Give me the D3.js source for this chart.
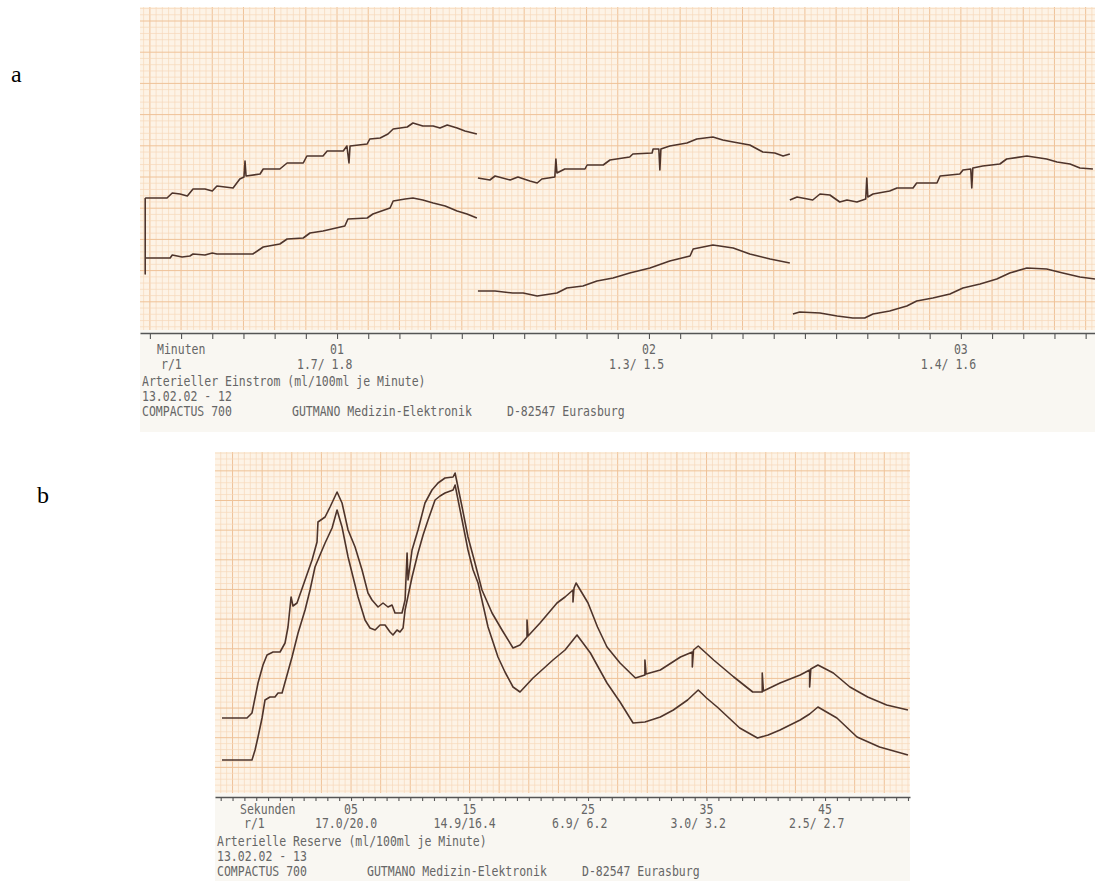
<!DOCTYPE html>
<html><head><meta charset="utf-8">
<script src="https://cdn.jsdelivr.net/npm/d3@7"></script>
<style>body{margin:0;background:#fff}svg{display:block}</style>
</head><body><svg id="c" width="1095" height="881"></svg>
<script>
// ---------- data (panel a: time in s, amplitude in chart units) ----------
const minuteTicks = [60, 120, 180];
const minuteLabels = ["01", "02", "03"];
const ratioA = ["1.7/ 1.8", "1.3/ 1.5", "1.4/ 1.6"];

const a1Upper = [[23.1,135],[27.3,135],[28.3,140],[29.8,139],[31.2,137],[32.3,144],[34.6,144],[36.0,142],[36.9,147],[40.0,145],[41.3,154],[42.1,156],[42.3,172],[42.5,157],[45.2,159],[45.8,164],[49.0,164],[50.4,170],[53.5,170],[54.2,177],[57.3,177],[58.1,182],[61.2,182],[61.9,187],[62.3,170],[62.5,187],[65.8,189],[66.3,194],[68.3,195],[69.8,199],[70.8,204],[73.5,206],[74.6,210],[76.5,207],[78.5,207],[79.8,205],[81.2,208],[83.1,205],[84.6,202],[86.9,199]];
const a1Lower = [[23.1,135],[23.1,59],[23.1,75],[27.9,75],[28.3,78],[30.2,76],[31.7,77],[32.3,79],[34.6,78],[36.0,80],[36.9,79],[41.3,79],[43.8,79],[45.8,86],[49.0,89],[50.4,94],[53.5,95],[54.8,100],[57.3,102],[61.5,107],[62.1,114],[65.8,115],[66.9,119],[70.2,125],[70.8,132],[73.1,134],[74.6,135],[76.5,133],[78.5,130],[80.8,127],[83.1,122],[85.0,119],[86.9,115]];
const a2Upper = [[87.1,155],[89.4,153],[90.4,157],[93.3,153],[94.8,156],[97.1,152],[98.5,150],[99.4,154],[101.9,156],[102.1,174],[102.3,160],[103.8,164],[107.7,164],[108.1,168],[111.2,168],[112.5,173],[116.3,176],[116.9,179],[120.6,180],[120.8,184],[121.9,184],[122.1,163],[122.3,184],[124.0,187],[127.3,190],[129.2,194],[132.3,196],[134.2,193],[136.2,191],[139.4,188],[141.9,181],[144.2,180],[145.8,177],[147.1,179]];
const a2Lower = [[87.1,42],[90.4,42],[93.8,40],[95.8,40],[98.5,37],[102.3,40],[104.2,45],[107.3,47],[110.0,52],[113.1,55],[116.3,60],[120.2,65],[124.0,72],[127.9,77],[128.5,84],[132.3,88],[136.2,85],[139.4,79],[143.3,74],[147.1,70]];
const a3Upper = [[147.1,133],[148.5,136],[151.5,133],[152.9,139],[154.8,138],[156.7,131],[158.1,133],[160.0,131],[161.7,134],[161.9,155],[162.1,136],[163.1,139],[166.3,142],[167.7,145],[170.8,145],[171.5,150],[175.4,150],[176.0,157],[179.8,159],[180.4,163],[181.9,164],[182.1,145],[182.3,165],[184.2,167],[187.5,169],[188.8,174],[192.7,177],[196.5,174],[198.5,171],[201.0,169],[202.9,165],[205.4,164]];
const a3Lower = [[147.7,19],[149.0,21],[152.9,20],[156.2,17],[159.2,15],[161.5,15],[163.1,19],[166.3,22],[169.6,27],[171.5,32],[174.6,35],[177.9,39],[180.4,45],[183.7,49],[186.9,54],[189.4,60],[192.7,65],[196.5,64],[199.6,60],[202.9,56],[205.8,54]];

// ---------- data (panel b: time in s, amplitude in chart units) ----------
const secondTicks = [5, 15, 25, 35, 45];
const secondLabels = ["05", "15", "25", "35", "45"];
const ratioB = ["17.0/20.0", "14.9/16.4", "6.9/ 6.2", "3.0/ 3.2", "2.5/ 2.7"];

const bUpper = [[-5.89,79],[-3.78,79],[-3.36,84],[-2.85,114],[-2.43,132],[-2.09,142],[-1.58,145],[-0.99,145],[-0.57,154],[-0.32,170],[-0.06,200],[0.1,191],[0.44,194],[1.12,217],[1.71,237],[2.13,255],[2.21,275],[2.81,280],[3.23,290],[3.82,305],[4.24,294],[4.75,267],[5.34,250],[5.93,227],[6.43,204],[6.77,197],[7.28,190],[7.70,194],[8.12,190],[8.46,192],[8.71,184],[9.30,184],[9.56,197],[9.73,244],[9.81,217],[10.15,247],[10.65,267],[11.24,294],[11.83,307],[12.34,314],[12.93,319],[13.61,320],[13.78,324],[14.37,290],[14.87,260],[15.46,234],[16.05,207],[16.90,184],[17.74,167],[18.67,149],[19.26,152],[19.85,160],[19.85,177],[19.94,161],[20.95,174],[22.38,194],[23.06,200],[23.73,207],[23.73,195],[23.82,209],[23.99,214],[25.0,194],[25.8,170],[26.6,150],[27.7,134],[29.0,119],[29.8,122],[29.8,137],[29.9,123],[31.1,127],[32.8,140],[33.8,145],[33.8,130],[33.9,147],[34.3,151],[35.6,137],[37.3,120],[38.9,105],[39.7,105],[39.7,124],[39.8,106],[41.2,114],[42.9,122],[43.7,127],[43.7,110],[43.8,128],[44.4,132],[45.7,124],[47.1,110],[48.6,100],[50.2,92],[52.0,87]];
const bLower = [[-5.89,37],[-3.36,37],[-3.1,47],[-2.85,60],[-2.51,79],[-2.26,97],[-1.84,100],[-1.42,100],[-1.16,104],[-0.82,104],[-0.40,122],[0.02,140],[0.53,164],[1.12,187],[1.54,207],[1.96,230],[2.38,242],[2.81,254],[3.4,269],[3.82,287],[4.24,270],[4.75,240],[5.17,220],[5.59,200],[6.18,177],[6.6,169],[7.03,167],[7.45,172],[7.87,172],[8.29,165],[8.54,162],[8.88,167],[9.13,165],[9.39,169],[9.56,187],[10.15,220],[10.65,244],[11.08,262],[11.5,277],[12.09,297],[12.51,301],[12.93,304],[13.61,307],[13.78,312],[14.37,277],[14.87,247],[15.3,227],[15.72,214],[16.56,170],[17.4,140],[17.99,125],[18.67,110],[19.26,105],[20.36,119],[22.04,137],[23.06,147],[24.07,162],[25.2,144],[26.6,114],[27.7,95],[28.8,74],[29.8,75],[31.1,80],[32.2,87],[33.4,97],[34.3,107],[35.0,99],[35.9,90],[37.8,69],[39.3,59],[40.2,62],[41.2,67],[42.9,77],[43.7,83],[44.4,90],[46.0,79],[47.7,60],[49.6,50],[52.0,42]];

const footer = ["COMPACTUS 700", "GUTMANO Medizin-Elektronik", "D-82547 Eurasburg"];

// ---------- drawing ----------
const svg = d3.select("#c");
const MONO = "'DejaVu Sans Mono', 'Liberation Mono', monospace";
const TXT = "#666";
const INK = "#4e342b";

function panel(cfg) {
  const g = svg.append("g");
  const x = d3.scaleLinear(cfg.xDomain, [cfg.x0, cfg.x1]);
  const y = d3.scaleLinear(cfg.yDomain, [cfg.axisY, cfg.y0]);
  g.append("rect").attr("x", cfg.x0).attr("y", cfg.y0).attr("width", cfg.x1 - cfg.x0)
    .attr("height", cfg.y2 - cfg.y0).attr("fill", "#f9f7f2");
  g.append("rect").attr("x", cfg.x0).attr("y", cfg.y0).attr("width", cfg.x1 - cfg.x0)
    .attr("height", cfg.gridBottom - cfg.y0).attr("fill", "#fdf3e6");
  const grid = g.append("g");
  const xs = d3.range(Math.ceil(cfg.xDomain[0] / cfg.gx) * cfg.gx, cfg.xDomain[1], cfg.gx);
  xs.forEach((v) => {
    const major = Math.abs(Math.round(v / cfg.gx)) % 5 === 0;
    grid.append("line").attr("x1", x(v)).attr("x2", x(v)).attr("y1", cfg.y0).attr("y2", cfg.gridBottom)
      .attr("stroke", major ? "#efc298" : "#f7d9ba").attr("stroke-width", major ? 1 : 0.7);
  });
  const ys = d3.range(0, cfg.yDomain[1], cfg.gy);
  ys.forEach((v) => {
    const yy = y(v);
    if (yy > cfg.gridBottom || yy < cfg.y0) return;
    const major = Math.round(v / cfg.gy) % 5 === 0;
    grid.append("line").attr("x1", cfg.x0).attr("x2", cfg.x1).attr("y1", yy).attr("y2", yy)
      .attr("stroke", major ? "#efc298" : "#f7d9ba").attr("stroke-width", major ? 1 : 0.7);
  });
  const ax = d3.axisBottom(x).tickValues(cfg.tickVals).tickSize(cfg.tickLen).tickSizeOuter(0).tickFormat("");
  const axg = g.append("g").attr("transform", `translate(0,${cfg.axisY})`).call(ax);
  axg.select(".domain").attr("stroke", "#555").attr("stroke-width", 1.3);
  axg.selectAll(".tick line").attr("stroke", "#555").attr("stroke-width", 1.1);
  const clipId = "clip" + cfg.id;
  svg.append("clipPath").attr("id", clipId).append("rect")
    .attr("x", cfg.x0).attr("y", cfg.y0).attr("width", cfg.x1 - cfg.x0).attr("height", cfg.gridBottom - cfg.y0);
  const line = d3.line().x(d => x(d[0])).y(d => y(d[1]));
  const tg = g.append("g").attr("clip-path", `url(#${clipId})`);
  cfg.traces.forEach(t => tg.append("path").attr("d", line(t)).attr("fill", "none")
    .attr("stroke", INK).attr("stroke-width", 1.6).attr("stroke-linejoin", "round"));
  function txt(str, tx, ty, anchor) {
    g.append("text").attr("transform", `translate(${tx},${ty}) scale(1,1.18)`)
      .attr("text-anchor", anchor || "start").attr("font-family", MONO).attr("font-size", 11.5)
      .attr("fill", TXT).attr("xml:space", "preserve").style("white-space", "pre").text(str);
  }
  txt(cfg.unitName, cfg.x0 + cfg.unitDx, cfg.rows[0]);
  txt("r/1", cfg.x0 + cfg.unitDx + 4, cfg.rows[1]);
  cfg.labelTicks.forEach((t, i) => {
    txt(cfg.labels[i], x(t), cfg.rows[0], "middle");
    txt(cfg.ratios[i], x(t) + cfg.ratioDx, cfg.rows[1], "start");
  });
  txt(cfg.title, cfg.x0 + 2, cfg.rows[2]);
  txt(cfg.date, cfg.x0 + 2, cfg.rows[3]);
  txt(footer[0], cfg.x0 + 2, cfg.rows[4]);
  txt(footer[1], cfg.x0 + 152, cfg.rows[4]);
  txt(footer[2], cfg.x0 + 367, cfg.rows[4]);
}

panel({
  id: "a", x0: 140, x1: 1095, y0: 7, gridBottom: 330, axisY: 333, y2: 432,
  xDomain: [22.1, 205.8], yDomain: [0, 326], gx: 1.2, gy: 6.24, tickLen: 6,
  tickVals: d3.range(24, 205, 6),
  traces: [a1Upper, a1Lower, a2Upper, a2Lower, a3Upper, a3Lower],
  unitName: "Minuten", unitDx: 17, labelTicks: minuteTicks, labels: minuteLabels,
  ratios: ratioA, ratioDx: -40,
  title: "Arterieller Einstrom (ml/100ml je Minute)", date: "13.02.02 - 12",
  rows: [354, 369, 386, 401, 416]
});

panel({
  id: "b", x0: 215, x1: 910, y0: 452, gridBottom: 793, axisY: 797, y2: 881,
  xDomain: [-6.48, 52.17], yDomain: [0, 345], gx: 0.5, gy: 5.93, tickLen: 4,
  tickVals: d3.range(-6, 52.1, 1),
  traces: [bUpper, bLower],
  unitName: "Sekunden", unitDx: 25, labelTicks: secondTicks, labels: secondLabels,
  ratios: ratioB, ratioDx: -36,
  title: "Arterielle Reserve (ml/100ml je Minute)", date: "13.02.02 - 13",
  rows: [814, 828, 846, 861, 876]
});

svg.append("text").attr("x", 11).attr("y", 82).attr("font-family", "'Liberation Serif', serif")
  .attr("font-size", 24).attr("fill", "#000").text("a");
svg.append("text").attr("x", 37).attr("y", 503).attr("font-family", "'Liberation Serif', serif")
  .attr("font-size", 24).attr("fill", "#000").text("b");
</script>
</body></html>
